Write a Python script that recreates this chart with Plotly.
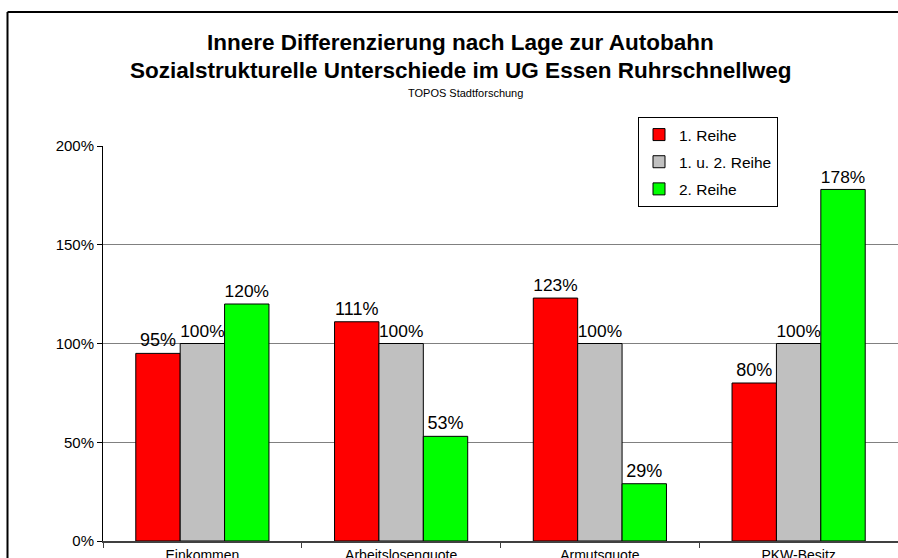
import plotly.graph_objects as go

categories = ["Einkommen", "Arbeitslosenquote", "Armutsquote", "PKW-Besitz"]
series_names = ["1. Reihe", "1. u. 2. Reihe", "2. Reihe"]
reihe1 = [95, 111, 123, 80]
reihe12 = [100, 100, 100, 100]
reihe2 = [120, 53, 29, 178]
colors = ["#FF0000", "#C0C0C0", "#00FF00"]
y_ticks = [0, 50, 100, 150, 200]

FONT = "Liberation Sans, Arial, sans-serif"

W, H = 898, 558
L, R, T, B = 103, 0, 146, 17
PW, PH = W - L - R, H - T - B


def px_x(x):
    return (x - L) / PW


def px_y(y):
    return (H - B - y) / PH


fig = go.Figure()
for i, (name, vals, col) in enumerate(zip(series_names, [reihe1, reihe12, reihe2], colors)):
    fig.add_trace(go.Bar(
        x=categories, y=vals, name=name, legendgroup=f"g{i}",
        marker=dict(color=col, line=dict(color="#000000", width=1)),
        text=[f"{v}%" for v in vals], textposition="outside",
        textfont=dict(family=FONT, size=18, color="#000000"),
        cliponaxis=False,
    ))

fig.update_layout(
    width=W, height=H,
    margin=dict(l=L, r=R, t=T, b=B, autoexpand=False),
    paper_bgcolor="white", plot_bgcolor="white",
    barmode="group", bargap=0.33, bargroupgap=0,
    showlegend=True,
    legend=dict(
        x=px_x(638), y=px_y(117),
        xanchor="left", yanchor="top",
        xref="paper", yref="paper",
        bgcolor="white", bordercolor="#000000", borderwidth=1,
        font=dict(family=FONT, size=15.5, color="#000000"),
        itemwidth=30, traceorder="grouped", tracegroupgap=4,
    ),
    font=dict(family=FONT, color="#000000"),
    annotations=[
        dict(text="<b>Innere Differenzierung nach Lage zur Autobahn</b>", xref="paper", yref="paper",
             x=px_x(460), y=px_y(43), showarrow=False, xanchor="center", yanchor="middle",
             font=dict(family=FONT, size=22.5, color="#000000")),
        dict(text="<b>Sozialstrukturelle Unterschiede im UG Essen Ruhrschnellweg</b>", xref="paper", yref="paper",
             x=px_x(460), y=px_y(70), showarrow=False, xanchor="center", yanchor="middle",
             font=dict(family=FONT, size=22.5, color="#000000")),
        dict(text="TOPOS Stadtforschung", xref="paper", yref="paper",
             x=px_x(465), y=px_y(93), showarrow=False, xanchor="center", yanchor="middle",
             font=dict(family=FONT, size=11, color="#000000")),
    ],
    shapes=[
        dict(type="line", xref="paper", yref="paper", x0=px_x(7.5), x1=px_x(7.5),
             y0=px_y(562), y1=px_y(12), line=dict(color="#000000", width=2)),
        dict(type="line", xref="paper", yref="paper", x0=px_x(7.5), x1=1.0,
             y0=px_y(12), y1=px_y(12), line=dict(color="#000000", width=2)),
    ],
)

fig.update_yaxes(
    range=[0, 200], tickvals=y_ticks, ticktext=[f"{v}%" for v in y_ticks],
    showgrid=True, gridcolor="#808080", gridwidth=1,
    showline=True, linecolor="#000000", linewidth=1,
    ticks="outside", ticklen=5, tickcolor="#000000",
    tickfont=dict(family=FONT, size=15, color="#000000"),
    zeroline=False, automargin=False,
)
fig.update_xaxes(
    showline=True, linecolor="#404040", linewidth=2,
    ticks="outside", ticklen=5, tickcolor="#404040", tickson="boundaries",
    tickfont=dict(family=FONT, size=14, color="#000000"),
    ticklabelstandoff=0,
    showgrid=False, automargin=False,
)

fig.write_html(
    "out.html",
    config={"displayModeBar": False},
    post_script="document.body.style.margin='0';document.body.style.overflow='hidden';",
)
